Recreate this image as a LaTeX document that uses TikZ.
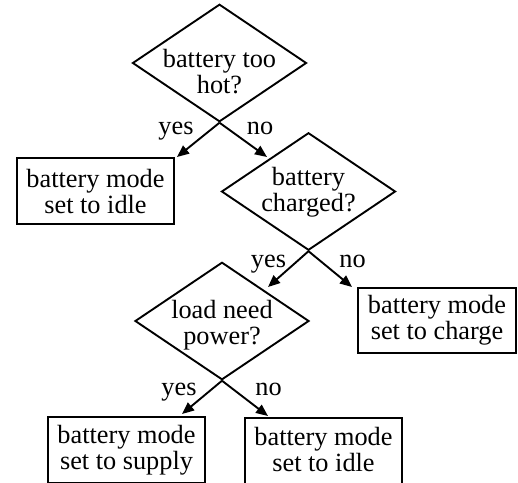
\documentclass[tikz,border=0pt]{standalone}
\usepackage{fontspec}
\setmainfont{Liberation Serif}
\usetikzlibrary{shapes.geometric,arrows.meta,calc}
\newcommand\nodetext[2]{\raisebox{#1pt}[0pt][0pt]{\makebox[0pt]{\begin{tabular}[t]{@{}c@{}}#2\end{tabular}}}}
\begin{document}
\begin{tikzpicture}[x=1pt,y=-1pt,
  every node/.style={font=\fontsize{26.3}{26}\selectfont},
  dia/.style={shape=diamond,draw,line width=1.9pt,inner sep=0pt,minimum width=174pt,minimum height=117.5pt},
  boxn/.style={shape=rectangle,draw,line width=1.9pt,inner sep=0pt,minimum width=157pt,minimum height=66pt},
  lab/.style={anchor=base,inner sep=0pt},
  arr/.style={line width=1.9pt,-{Triangle[length=12pt,width=10pt]}}]
\fill[white] (0,0) rectangle (518,482);
\useasboundingbox (0,0) rectangle (518,482);
% diamonds
\node[dia] (d1) at (219.5,63) {\nodetext{-4}{battery too\\hot?}};
\node[dia] (d2) at (308.5,191.5) {\nodetext{6.5}{battery\\charged?}};
\node[dia] (d3) at (222,321) {\nodetext{3}{load need\\power?}};
% boxes
\node[boxn] (b1) at (95.5,191) {\nodetext{3.5}{battery mode\\set to idle}};
\node[boxn,minimum width=158pt,minimum height=65pt] (b2) at (437,320.5) {\nodetext{7.5}{battery mode\\set to charge}};
\node[boxn] (b3) at (126.5,450) {\nodetext{7}{battery mode\\set to supply}};
\node[boxn] (b4) at (323.5,451) {\nodetext{6}{battery mode\\set to idle}};
% connectors
\draw[arr] (d1.south) -- ($(b1.center)+(81.5,-34)$);
\draw[arr] (d1.south) -- ($(d2.center)+(-41.5,-34.5)$);
\draw[arr] (d2.south) -- ($(d3.center)+(46,-34)$);
\draw[arr] (d2.south) -- ($(b2.center)+(-85,-33.5)$);
\draw[arr] (d3.south) -- ($(b3.center)+(55.5,-36)$);
\draw[arr] (d3.south) -- ($(b4.center)+(-55.5,-35)$);
% labels
\node[lab] (y1) at (176,134) {yes};
\node[lab] (n1) at (260,134) {no};
\node[lab] (y2) at (268.5,267) {yes};
\node[lab] (n2) at (352.5,267) {no};
\node[lab] (y3) at (179,395) {yes};
\node[lab] (n3) at (268.5,395) {no};
\end{tikzpicture}
\end{document}
